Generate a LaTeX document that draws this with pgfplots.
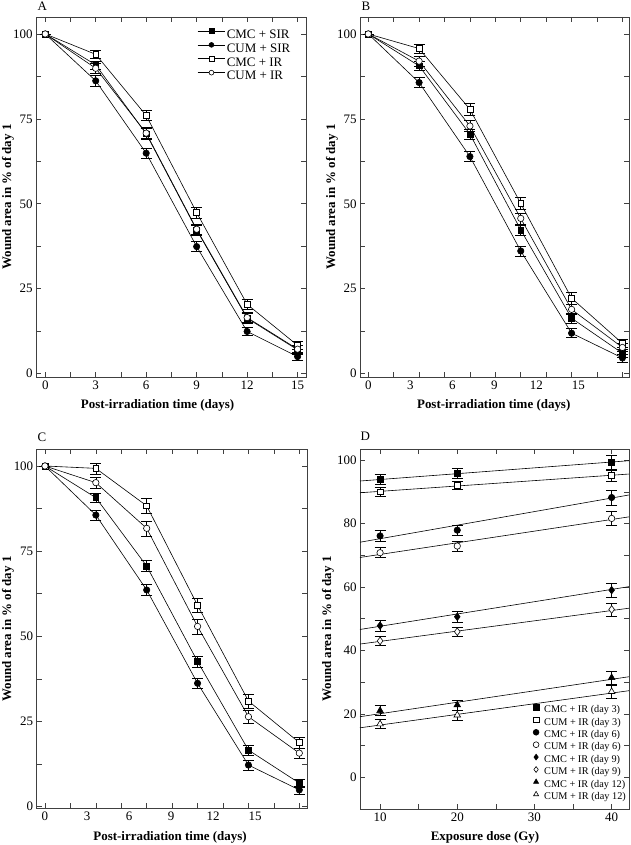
\documentclass[border=0pt]{standalone}
\usepackage{fontspec}
\setmainfont{Liberation Serif}
\usepackage{pgfplots}
\pgfplotsset{compat=1.18}
\newcommand{\legfontA}{\fontsize{13}{15}\selectfont}
\newcommand{\legfontD}{\fontsize{10.3}{12}\selectfont}
\begin{document}
\begin{tikzpicture}[x=1bp,y=1bp]
\useasboundingbox (0bp,0bp) rectangle (631bp,845bp);
\pgfplotsset{
  panel/.style={
    scale only axis, anchor=south west,
    axis line style={black!75, line width=0.7bp},
    every tick/.style={black!75, line width=0.6bp},
    major tick length=5bp, minor tick length=5bp,
    tick label style={font=\fontsize{13}{15}\selectfont},
    /pgf/number format/assume math mode=true,
    clip=false,
  },
  ser/.style={black, line width=0.6bp, mark size=3.2bp,
    error bars/y dir=both, error bars/y explicit,
    error bars/error mark=-,
    error bars/error bar style={line width=0.6bp, black},
    error bars/error mark options={rotate=90, mark size=5.5bp, line width=0.6bp, black}},
  fsq/.style={ser, mark=square*, mark size=2.9bp, mark options={fill=black, solid}},
  fci/.style={ser, mark=*, mark options={fill=black, solid}},
  osq/.style={ser, mark=square*, mark size=2.9bp, mark options={fill=white, solid}},
  oci/.style={ser, mark=*, mark options={fill=white, solid}},
  fdi/.style={ser, mark=diamond*, mark size=3.8bp, mark options={fill=black, solid}},
  odi/.style={ser, mark=diamond*, mark size=3.8bp, mark options={fill=white, solid}},
  ftr/.style={ser, mark=triangle*, mark size=3.8bp, mark options={fill=black, solid}},
  otr/.style={ser, mark=triangle*, mark size=3.8bp, mark options={fill=white, solid}},
}
% ---------------- Panel A ----------------
\begin{axis}[panel, at={(36bp,468bp)}, width=270bp, height=360bp,
  xmin=-0.55, xmax=15.5, ymin=-1, ymax=105,
  xtick={0,3,...,15}, minor x tick num=1,
  ytick={0,25,50,75,100}, minor y tick num=1,
  legend style={draw=none, fill=none, at={(rel axis cs:0.5967,0.9713)}, anchor=north west,
    font=\legfontA, row sep=0bp, column sep=0bp, inner sep=0pt,
    nodes={inner sep=1.2bp, text height=9.5bp, text depth=2bp, font=\legfontA}},
  legend cell align=left,
  legend image code/.code={\draw[mark repeat=2,mark phase=2,#1,mark size=2.4bp] plot coordinates {(0bp,3.5bp) (13.85bp,3.5bp) (27.7bp,3.5bp)};},
]
\addplot[fsq] table[x=x,y=y,y error=e] {
x y e
0 100 0
3 90.9 1.2
6 70.6 1.5
9 42.3 1.5
12 16.3 1.5
15 7.0 1.2
};
\addlegendentry{\legfontA CMC + SIR}
\addplot[fci] table[x=x,y=y,y error=e] {
x y e
0 100 0
3 86.2 1.5
6 64.9 1.5
9 37.4 1.5
12 12.4 1.2
15 5.0 1.2
};
\addlegendentry{\legfontA CUM + SIR}
\addplot[osq] table[x=x,y=y,y error=e] {
x y e
0 100 0
3 94.0 1.2
6 76.0 1.5
9 47.4 1.7
12 20.4 1.5
15 8.3 1.2
};
\addlegendentry{\legfontA CMC + IR}
\addplot[oci] table[x=x,y=y,y error=e] {
x y e
0 100 0
3 89.9 1.5
6 70.8 1.6
9 42.5 1.6
12 16.5 1.5
15 7.2 1.2
};
\addlegendentry{\legfontA CUM + IR}
\end{axis}
% ---------------- Panel B ----------------
\begin{axis}[panel, at={(360bp,468bp)}, width=269bp, height=360bp,
  xmin=-0.59, xmax=18.62, ymin=-1, ymax=105,
  xtick={0,1.815,3.63,5.445,7.26,9.075,10.89,12.705,14.52,16.335,18.15},
  xticklabels={},
  extra x ticks={0,3,6,9,12,15},
  extra x tick labels={0,3,6,9,12,15},
  extra x tick style={major tick length=0pt},
  ytick={0,25,50,75,100}, minor y tick num=1,
]
\addplot[fsq] table[x=x,y=y,y error=e] {
x y e
0 100 0
3.63 90.6 1.3
7.26 70.5 1.5
10.89 42.3 1.5
14.52 16.3 1.5
18.15 6.0 1.2
};
\addplot[fci] table[x=x,y=y,y error=e] {
x y e
0 100 0
3.63 85.7 1.5
7.26 63.9 1.5
10.89 36.1 1.5
14.52 11.9 1.3
18.15 4.6 1.2
};
\addplot[osq] table[x=x,y=y,y error=e] {
x y e
0 100 0
3.63 95.7 1.4
7.26 77.8 1.7
10.89 50.1 1.7
14.52 22.2 1.7
18.15 8.9 1.2
};
\addplot[oci] table[x=x,y=y,y error=e] {
x y e
0 100 0
3.63 92.0 1.5
7.26 72.9 1.6
10.89 45.7 1.6
14.52 18.9 1.5
18.15 7.7 1.2
};
\end{axis}
% ---------------- Panel C ----------------
\begin{axis}[panel, at={(36.7bp,36.7bp)}, width=270.3bp, height=359bp,
  xmin=-0.59, xmax=18.7, ymin=-0.5, ymax=104.9,
  xtick={0,1.815,3.63,5.445,7.26,9.075,10.89,12.705,14.52,16.335,18.15},
  xticklabels={},
  extra x ticks={0,3,6,9,12,15},
  extra x tick labels={0,3,6,9,12,15},
  extra x tick style={major tick length=0pt},
  ytick={0,25,50,75,100}, minor y tick num=1,
]
\addplot[fsq] table[x=x,y=y,y error=e] {
x y e
0 100 0
3.63 90.7 1.4
7.26 70.6 1.6
10.89 42.6 1.6
14.52 16.6 1.5
18.15 6.9 1.2
};
\addplot[fci] table[x=x,y=y,y error=e] {
x y e
0 100 0
3.63 85.6 1.5
7.26 63.6 1.6
10.89 36.2 1.6
14.52 12.2 1.4
18.15 4.9 1.2
};
\addplot[osq] table[x=x,y=y,y error=e] {
x y e
0 100 0
3.63 99.3 1.6
7.26 88.3 2.2
10.89 59.1 2.2
14.52 31.0 2.0
18.15 18.8 1.6
};
\addplot[oci] table[x=x,y=y,y error=e] {
x y e
0 100 0
3.63 95.1 1.6
7.26 81.7 2.2
10.89 52.9 2.2
14.52 26.4 1.8
18.15 15.7 1.5
};
\end{axis}
% ---------------- Panel D ----------------
\begin{axis}[panel, at={(360bp,36bp)}, width=269bp, height=359.7bp,
  xmin=7.4, xmax=42.25, ymin=-10, ymax=103.4,
  xtick={10,20,30,40}, minor x tick num=1,
  ytick={0,20,40,60,80,100}, minor y tick num=1,
  legend style={draw=none, fill=none, at={(rel axis cs:0.9933,0.0153)}, anchor=south east,
    font=\legfontD, row sep=0bp, column sep=4bp, inner sep=0pt,
    nodes={inner sep=1.2bp, text height=7.5bp, text depth=2.5bp, font=\legfontD}},
  legend cell align=left,
  legend image code/.code={\draw[mark repeat=2,mark phase=2,#1,mark size=2.9bp] plot coordinates {(-3bp,2.8bp) (0bp,2.8bp) (3bp,2.8bp)};},
]
\addplot[black, line width=0.6bp, forget plot] coordinates {(7.4,93.4) (42.25,99.8)};
\addplot[black, line width=0.6bp, forget plot] coordinates {(7.4,89.7) (42.25,95.6)};
\addplot[black, line width=0.6bp, forget plot] coordinates {(7.4,74.1) (42.25,89.0)};
\addplot[black, line width=0.6bp, forget plot] coordinates {(7.4,69.3) (42.25,82.1)};
\addplot[black, line width=0.6bp, forget plot] coordinates {(7.4,46.6) (42.25,60.1)};
\addplot[black, line width=0.6bp, forget plot] coordinates {(7.4,42.0) (42.25,53.3)};
\addplot[black, line width=0.6bp, forget plot] coordinates {(7.4,19.1) (42.25,31.7)};
\addplot[black, line width=0.6bp, forget plot] coordinates {(7.4,15.6) (42.25,27.3)};
\addplot[fsq, only marks] table[x=x,y=y,y error=e] {
x y e
10 94.0 1.5
20 95.8 1.5
40 99.3 2.2
};
\addlegendentry{\legfontD CMC + IR (day 3)}
\addplot[osq, only marks] table[x=x,y=y,y error=e] {
x y e
10 90.0 1.3
20 92.1 1.3
40 95.1 1.8
};
\addlegendentry{\legfontD CUM + IR (day 3)}
\addplot[fci, only marks] table[x=x,y=y,y error=e] {
x y e
10 76.1 1.8
20 77.9 1.6
40 88.2 2.3
};
\addlegendentry{\legfontD CMC + IR (day 6)}
\addplot[oci, only marks] table[x=x,y=y,y error=e] {
x y e
10 70.8 1.6
20 72.9 1.6
40 81.6 2.3
};
\addlegendentry{\legfontD CUM + IR (day 6)}
\addplot[fdi, only marks] table[x=x,y=y,y error=e] {
x y e
10 47.8 1.7
20 50.6 1.7
40 59.0 2.2
};
\addlegendentry{\legfontD CMC + IR (day 9)}
\addplot[odi, only marks] table[x=x,y=y,y error=e] {
x y e
10 43.0 1.5
20 45.9 1.5
40 52.9 2.0
};
\addlegendentry{\legfontD CUM + IR (day 9)}
\addplot[ftr, only marks] table[x=x,y=y,y error=e] {
x y e
10 21.0 1.6
20 22.8 1.6
40 31.4 2.0
};
\addlegendentry{\legfontD CMC + IR (day 12)}
\addplot[otr, only marks] table[x=x,y=y,y error=e] {
x y e
10 16.8 1.5
20 19.6 1.5
40 27.0 2.0
};
\addlegendentry{\legfontD CUM + IR (day 12)}
\end{axis}
% ---------------- Labels ----------------
\tikzset{lab/.style={font=\bfseries\fontsize{13}{15}\selectfont}}
\node[lab, anchor=base] at (157.5bp,436.3bp) {Post-irradiation time (days)};
\node[lab, anchor=base] at (493.7bp,436.3bp) {Post-irradiation time (days)};
\node[lab, anchor=base] at (170bp,5bp) {Post-irradiation time (days)};
\node[lab, anchor=base] at (485bp,4.3bp) {Exposure dose (Gy)};
\node[lab, rotate=90] at (8bp,648bp) {Wound area in \% of day 1};
\node[lab, rotate=90] at (332bp,648bp) {Wound area in \% of day 1};
\node[lab, rotate=90] at (8bp,216bp) {Wound area in \% of day 1};
\node[lab, rotate=90] at (328bp,216bp) {Wound area in \% of day 1};
\tikzset{let/.style={font=\fontsize{13}{15}\selectfont, anchor=base west, inner sep=0pt}}
\node[let] at (37.5bp,834.3bp) {A};
\node[let] at (361.5bp,834bp) {B};
\node[let] at (37.5bp,403.3bp) {C};
\node[let] at (360.5bp,404.3bp) {D};
\end{tikzpicture}
\end{document}
